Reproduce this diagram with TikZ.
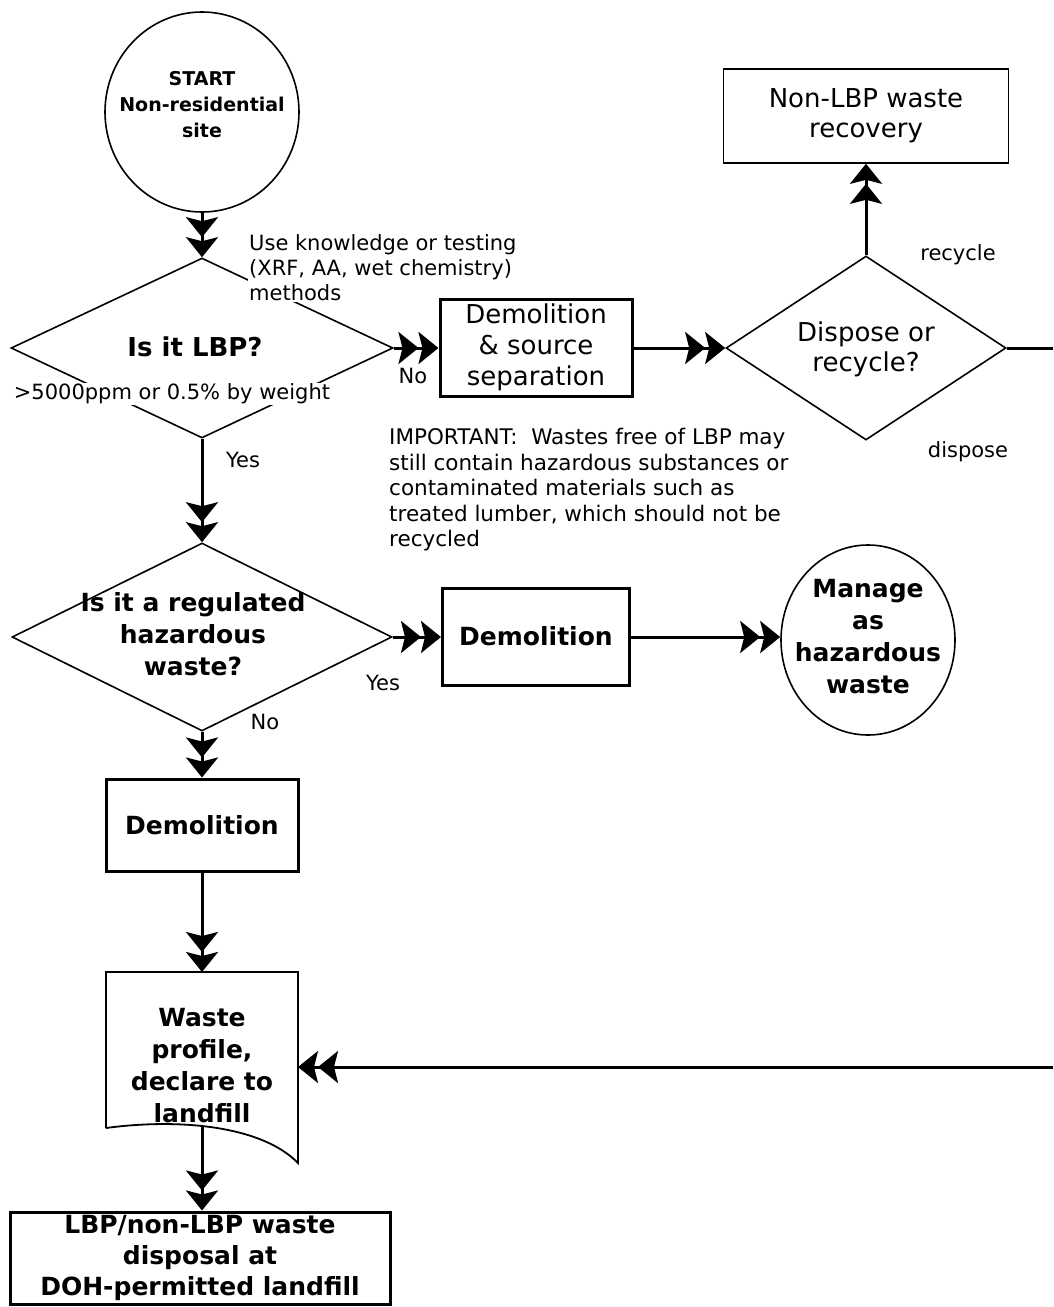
\documentclass[tikz,border=0pt]{standalone}
\usepackage{fontspec}
\setmainfont{DejaVu Sans}
\usetikzlibrary{arrows.meta,shapes.geometric}
\tikzset{
  flowarrow/.style={line width=3pt,-{Stealth[length=20pt,width=32pt,inset=4pt]Stealth[length=20pt,width=32pt,inset=4pt]}},
  flowline/.style={line width=3pt},
  smalltxt/.style={font=\fontsize{21}{25}\selectfont,inner sep=1pt,align=left},
  boldtxt/.style={font=\bfseries\fontsize{25}{32}\selectfont,align=center,inner sep=0pt},
  regtxt/.style={font=\fontsize{26}{31}\selectfont,align=center,inner sep=0pt},
  thickbox/.style={draw,line width=3pt,inner sep=0pt},
  thinbox/.style={draw,line width=1.6pt,inner sep=0pt},
  decision/.style={draw,diamond,line width=1.6pt,inner sep=0pt},
  terminal/.style={draw,ellipse,line width=1.6pt,inner sep=0pt},
  docline/.style={line width=1.8pt,line join=miter}
}
\begin{document}
\begin{tikzpicture}[x=1pt,y=-1pt]
\useasboundingbox[fill=white] (0,0) rectangle (1053,1307);

% START
\node[terminal,minimum width=194,minimum height=200] (start) at (202,112) {};
\node[boldtxt,font=\bfseries\fontsize{19}{26}\selectfont] (starttxt) at (202,105) {START\\Non-residential\\site};

% Decision 1
\node[decision,minimum width=382,minimum height=180] (d1) at (202,348) {};
\node[boldtxt,font=\bfseries\fontsize{26}{32}\selectfont] (d1txt) at (195,347) {Is it LBP?};
\node[smalltxt,fill=white,anchor=west] (method) at (248,268) {Use knowledge or testing\\(XRF, AA, wet chemistry)\\methods};
\node[smalltxt,fill=white] (thresh) at (172,394) {>5000ppm or 0.5\% by weight};
\node[smalltxt] (no1) at (413,376) {No};
\node[smalltxt] (yes1) at (243,460) {Yes};

% Demolition & source separation
\node[thickbox,minimum width=192,minimum height=97] (src) at (536,348) {};
\node[regtxt] (srctxt) at (536,347) {Demolition\\\& source\\separation};

% Decision 2
\node[decision,minimum width=280,minimum height=184] (d2) at (866,348) {};
\node[regtxt,font=\fontsize{26}{30}\selectfont] (d2txt) at (866,349) {Dispose or\\recycle?};
\node[smalltxt] (recyc) at (958,255) {recycle};
\node[smalltxt] (disp) at (968,452) {dispose};

% Non-LBP recovery
\node[thinbox,minimum width=285,minimum height=94] (nonlbp) at (866,116) {};
\node[regtxt,font=\fontsize{26}{30}\selectfont] (nonlbptxt) at (866,116) {Non-LBP waste\\recovery};

% IMPORTANT note
\node[smalltxt,anchor=north west,font=\fontsize{21.5}{25.5}\selectfont] (note) at (388,427) {IMPORTANT:\ \ Wastes free of LBP may\\still contain hazardous substances or\\contaminated materials such as\\treated lumber, which should not be\\recycled};

% Decision 3
\node[decision,minimum width=380,minimum height=188] (d3) at (202,637) {};
\node[boldtxt] (d3txt) at (193,634) {Is it a regulated\\hazardous\\waste?};
\node[smalltxt] (yes3) at (383,683) {Yes};
\node[smalltxt] (no3) at (265,722) {No};

% Demolition (hazardous)
\node[thickbox,minimum width=187,minimum height=97] (dem2) at (536,637) {};
\node[boldtxt] (dem2txt) at (536,636) {Demolition};

% Manage as hazardous waste
\node[terminal,minimum width=174,minimum height=190] (manage) at (868,640) {};
\node[boldtxt] (managetxt) at (868,637) {Manage\\as\\hazardous\\waste};

% Demolition (non-hazardous)
\node[thickbox,minimum width=192,minimum height=92] (dem3) at (202,825) {};
\node[boldtxt] (dem3txt) at (202,825) {Demolition};

% Document shape
\draw[docline] (106,1128) -- (106,972) -- (298,972) -- (298,1163)
  .. controls (262,1126) and (180,1118) .. (106,1128);
\coordinate (docT) at (202,972);
\coordinate (docR) at (298,1067);
\coordinate (docB) at (202,1127);
\node[boldtxt] (doctxt) at (202,1066) {Waste\\profile,\\declare to\\landfill};

% Final box
\node[thickbox,minimum width=380,minimum height=92] (final) at (200,1258) {};
\node[boldtxt,font=\bfseries\fontsize{25}{31}\selectfont] (finaltxt) at (200,1258) {LBP/non-LBP waste\\disposal at\\DOH-permitted landfill};

% edge coordinates (lines leaving the page)
\coordinate (e1) at (1053,348);
\coordinate (e2) at (1053,1067);

% connectors
\draw[flowarrow] (start.south) -- (d1.north);
\draw[flowarrow] (d1.east) -- (src.west);
\draw[flowarrow] (src.east) -- (d2.west);
\draw[flowarrow] (d2.north) -- (nonlbp.south);
\draw[flowline] (d2.east) -- (e1);
\draw[flowarrow] (d1.south) -- (d3.north);
\draw[flowarrow] (d3.east) -- (d3.east -| dem2.west);
\draw[flowarrow] (dem2.east) -- (dem2.east -| manage.west);
\draw[flowarrow] (d3.south) -- (dem3.north);
\draw[flowarrow] (dem3.south) -- (docT);
\draw[flowarrow] (e2) -- (docR);
\draw[flowarrow] (docB) -- (docB |- final.north);
\end{tikzpicture}
\end{document}
